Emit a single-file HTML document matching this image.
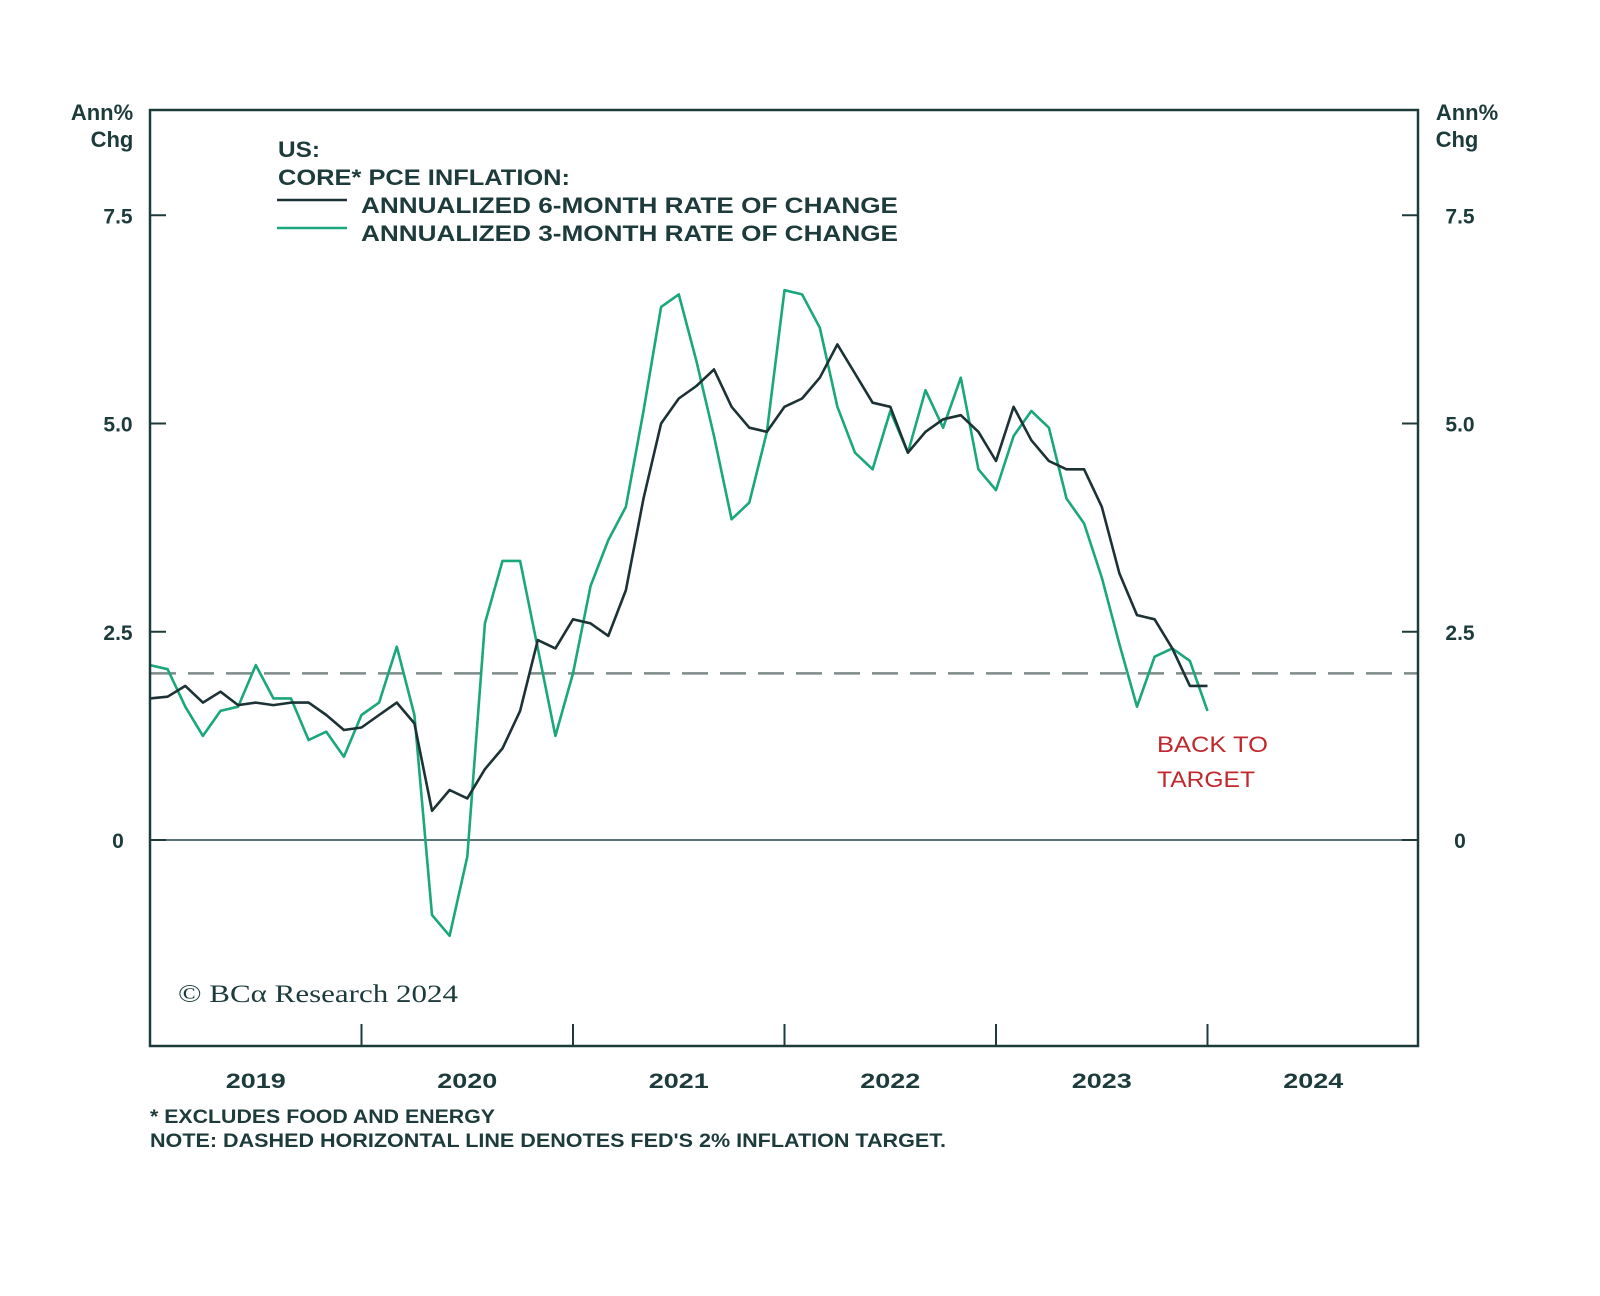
<!DOCTYPE html>
<html><head><meta charset="utf-8"><style>
body{margin:0;background:#fff;}
svg text{font-family:"Liberation Sans",sans-serif;font-weight:bold;fill:#1d3b3b;}
</style></head><body>
<svg width="1600" height="1291" viewBox="0 0 1600 1291">
<g id="root"></g>
</svg>
<script>
const years=["2019","2020","2021","2022","2023","2024"];
const yTicks=[0,2.5,5.0,7.5];
const yTickLabels=["0","2.5","5.0","7.5"];
const sixMonth=[1.7,1.72,1.85,1.65,1.78,1.62,1.65,1.62,1.65,1.65,1.5,1.32,1.35,1.5,1.65,1.4,0.35,0.6,0.5,0.85,1.1,1.55,2.4,2.3,2.65,2.6,2.45,3.0,4.1,5.0,5.3,5.45,5.65,5.2,4.95,4.9,5.2,5.3,5.55,5.95,5.6,5.25,5.2,4.65,4.9,5.05,5.1,4.9,4.55,5.2,4.8,4.55,4.45,4.45,4.0,3.2,2.7,2.65,2.3,1.85,1.85];
const threeMonth=[2.1,2.05,1.6,1.25,1.55,1.6,2.1,1.7,1.7,1.2,1.3,1.0,1.5,1.65,2.32,1.5,-0.9,-1.15,-0.2,2.6,3.35,3.35,2.3,1.25,2.0,3.05,3.6,4.0,5.15,6.4,6.55,5.75,4.85,3.85,4.05,4.9,6.6,6.55,6.15,5.2,4.65,4.45,5.15,4.65,5.4,4.95,5.55,4.45,4.2,4.85,5.15,4.95,4.1,3.8,3.15,2.35,1.6,2.2,2.3,2.15,1.55];
const target=2.0;
const L=150,R=1418,T=110,B=1046;
const yS=v=>840-v*83.3;
const xS=i=>150+i*(211.5/12);
const NS="http://www.w3.org/2000/svg";
const root=document.getElementById('root');
function mk(tag,attrs,txt){const e=document.createElementNS(NS,tag);for(const k in attrs)e.setAttribute(k,attrs[k]);if(txt!==undefined)e.textContent=txt;root.appendChild(e);return e;}
let e;
e=mk('line',{x1:L,x2:R,y1:yS(0),y2:yS(0),stroke:'#5d7373','stroke-width':2});

e=mk('line',{x1:L,x2:R,y1:yS(target),y2:yS(target),stroke:'#7d8b89','stroke-width':2.5,'stroke-dasharray':'26 12'});

yTicks.forEach((v,k)=>{
 e=mk('line',{x1:L,x2:L+16,y1:yS(v),y2:yS(v),stroke:'#1d3b3b','stroke-width':2});
 
 e=mk('line',{x1:R-16,x2:R,y1:yS(v),y2:yS(v),stroke:'#1d3b3b','stroke-width':2});
 
 e=mk('text',{x:118,y:yS(v)+8,'text-anchor':'middle','font-size':21},yTickLabels[k]);
 
 e=mk('text',{x:1460,y:yS(v)+8,'text-anchor':'middle','font-size':21},yTickLabels[k]);
 
});
years.forEach((y,k)=>{
 const x0=xS(k*12);
 if(k>0&&k<6){e=mk('line',{x1:x0,x2:x0,y1:B-22,y2:B,stroke:'#1d3b3b','stroke-width':2});
 }
 e=mk('text',{x:x0+105.75,y:1088,'text-anchor':'middle','font-size':21,textLength:60,lengthAdjust:'spacingAndGlyphs'},y);
 
});
function line(arr,col,w,name){
 const d=arr.map((v,i)=>(i?'L':'M')+xS(i).toFixed(1)+','+yS(v).toFixed(1)).join('');
 const p=mk('path',{d:d,fill:'none',stroke:col,'stroke-width':w,'stroke-linejoin':'round'});
 
}
line(threeMonth,'#1aa77b',2.6,'series-3-month');
line(sixMonth,'#1c3234',2.6,'series-6-month');
e=mk('rect',{x:L,y:T,width:R-L,height:B-T,fill:'none',stroke:'#1d3b3b','stroke-width':2.5});

</script>
<svg style="position:absolute;left:0;top:0" width="1600" height="1291">
<g><text x="102" y="120" text-anchor="middle" font-size="22">Ann%</text><text x="112" y="147" text-anchor="middle" font-size="22">Chg</text></g>
<g><text x="1467" y="120" text-anchor="middle" font-size="22">Ann%</text><text x="1457" y="147" text-anchor="middle" font-size="22">Chg</text></g>
<g>
<text x="278" y="157" font-size="22" textLength="42" lengthAdjust="spacingAndGlyphs">US:</text>
<text x="278" y="185" font-size="22" textLength="292" lengthAdjust="spacingAndGlyphs">CORE* PCE INFLATION:</text>
<line x1="277" x2="347" y1="200" y2="200" stroke="#1c3234" stroke-width="2.5"/>
<text x="361" y="213" font-size="22" textLength="537" lengthAdjust="spacingAndGlyphs">ANNUALIZED 6-MONTH RATE OF CHANGE</text>
<line x1="277" x2="347" y1="228" y2="228" stroke="#1aa77b" stroke-width="2.5"/>
<text x="361" y="241" font-size="22" textLength="537" lengthAdjust="spacingAndGlyphs">ANNUALIZED 3-MONTH RATE OF CHANGE</text>
</g>
<g><text x="1157" y="752" font-size="22" textLength="111" lengthAdjust="spacingAndGlyphs" style="fill:#c0282d;font-weight:normal">BACK TO</text><text x="1157" y="787" font-size="22" textLength="98" lengthAdjust="spacingAndGlyphs" style="fill:#c0282d;font-weight:normal">TARGET</text></g>
<text x="178" y="1002" font-size="25" textLength="280" lengthAdjust="spacingAndGlyphs" style="font-family:'Liberation Serif',serif;font-weight:normal">© BCα Research 2024</text>
<text x="150" y="1123" font-size="19" textLength="345" lengthAdjust="spacingAndGlyphs">* EXCLUDES FOOD AND ENERGY</text>
<text x="150" y="1147" font-size="19" textLength="796" lengthAdjust="spacingAndGlyphs">NOTE: DASHED HORIZONTAL LINE DENOTES FED'S 2% INFLATION TARGET.</text>
</svg>
</body></html>
